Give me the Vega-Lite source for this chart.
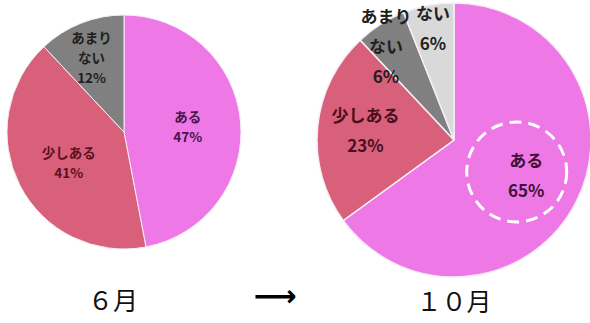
{
  "$schema": "https://vega.github.io/schema/vega-lite/v6.json",
  "padding": 0,
  "background": "white",
  "spacing": 0,
  "config": {
    "view": {"stroke": null},
    "title": {"font": "Noto Sans CJK JP", "fontSize": 25, "fontWeight": "normal", "color": "#111111", "orient": "bottom", "anchor": "middle", "baseline": "top"}
  },
  "datasets": {
    "pie": [
      {"month": "6月", "category": "ある", "label": "ある", "value": 47, "order": 1},
      {"month": "6月", "category": "少しある", "label": "少しある", "value": 41, "order": 2},
      {"month": "6月", "category": "あまりない", "label": "あまり\nない", "value": 12, "order": 3},
      {"month": "10月", "category": "ある", "label": "ある", "value": 65, "order": 1},
      {"month": "10月", "category": "少しある", "label": "少しある", "value": 23, "order": 2},
      {"month": "10月", "category": "あまりない", "label": "あまり\nない", "value": 6, "order": 3},
      {"month": "10月", "category": "ない", "label": "ない", "value": 6, "order": 4}
    ]
  },
  "hconcat": [
    {
      "width": 248,
      "height": 260,
      "title": {"text": "６月", "offset": 28, "dx": -11},
      "data": {"name": "pie"},
      "transform": [
        {"filter": "datum.month === '6月'"},
        {"stack": "value", "groupby": [], "sort": [{"field": "order", "order": "ascending"}], "as": ["t0", "t1"]},
        {"calculate": "(datum.t0 + datum.t1) / 2", "as": "mid"},
        {"calculate": "datum.label + '\\n' + datum.value + '%'", "as": "text"}
      ],
      "layer": [
        {
          "mark": {"type": "arc", "radius": 117, "stroke": "#f6eef6", "strokeWidth": 1},
          "encoding": {
            "theta": {"field": "t0", "type": "quantitative", "scale": {"domain": [0, 100]}, "stack": null},
            "theta2": {"field": "t1"},
            "fill": {"field": "category", "type": "nominal", "scale": {"domain": ["ある", "少しある", "あまりない", "ない"], "range": ["#EE78E6", "#D8607A", "#7F807F", "#D9D9D9"]}, "legend": null}
          }
        },
        {
          "transform": [{"filter": "datum.category === 'ある'"}],
          "mark": {"type": "text", "radius": 64, "dy": -8, "font": "Noto Sans CJK JP", "fontWeight": "bold", "fontSize": 13.5, "lineBreak": "\n", "lineHeight": 20, "align": "center", "baseline": "middle", "color": "#4a1548"},
          "encoding": {"theta": {"field": "mid", "type": "quantitative"}, "text": {"field": "text"}}
        },
        {
          "transform": [{"filter": "datum.category === '少しある'"}],
          "mark": {"type": "text", "radius": 62, "dy": -6, "font": "Noto Sans CJK JP", "fontWeight": "bold", "fontSize": 13.5, "lineBreak": "\n", "lineHeight": 20, "align": "center", "baseline": "middle", "color": "#5c1020"},
          "encoding": {"theta": {"field": "mid", "type": "quantitative"}, "text": {"field": "text"}}
        },
        {
          "transform": [{"filter": "datum.category === 'あまりない'"}],
          "mark": {"type": "text", "radius": 88, "dy": -11, "font": "Noto Sans CJK JP", "fontWeight": "bold", "fontSize": 13.5, "lineBreak": "\n", "lineHeight": 20, "align": "center", "baseline": "middle", "color": "#1f1f1f"},
          "encoding": {"theta": {"field": "mid", "type": "quantitative"}, "text": {"field": "text"}}
        }
      ]
    },
    {
      "width": 66,
      "height": 260,
      "title": {"text": "⟶", "font": "DejaVu Sans", "fontSize": 30, "fontWeight": "bold", "color": "#000000", "offset": 35, "dx": -6, "baseline": "middle"},
      "data": {"values": []},
      "mark": "text"
    },
    {
      "width": 276,
      "height": 276,
      "title": {"text": "１０月", "offset": 11, "dx": 0},
      "data": {"name": "pie"},
      "transform": [
        {"filter": "datum.month === '10月'"},
        {"stack": "value", "groupby": [], "sort": [{"field": "order", "order": "ascending"}], "as": ["t0", "t1"]},
        {"calculate": "(datum.t0 + datum.t1) / 2", "as": "mid"},
        {"calculate": "datum.label + '\\n' + datum.value + '%'", "as": "text"}
      ],
      "layer": [
        {
          "mark": {"type": "arc", "radius": 137, "stroke": "#f6eef6", "strokeWidth": 1.5},
          "encoding": {
            "theta": {"field": "t0", "type": "quantitative", "scale": {"domain": [0, 100]}, "stack": null},
            "theta2": {"field": "t1"},
            "fill": {"field": "category", "type": "nominal", "scale": {"domain": ["ある", "少しある", "あまりない", "ない"], "range": ["#EE78E6", "#D8607A", "#7F807F", "#D9D9D9"]}, "legend": null}
          }
        },
        {
          "transform": [{"filter": "datum.category === 'ある'"}],
          "mark": {"type": "text", "radius": 81, "dy": -15, "font": "Noto Sans CJK JP", "fontWeight": "bold", "fontSize": 17, "lineBreak": "\n", "lineHeight": 30, "align": "center", "baseline": "middle", "color": "#3e1238"},
          "encoding": {"theta": {"field": "mid", "type": "quantitative"}, "text": {"field": "text"}}
        },
        {
          "transform": [{"filter": "datum.category === '少しある'"}],
          "mark": {"type": "text", "radius": 89, "dy": -15, "font": "Noto Sans CJK JP", "fontWeight": "bold", "fontSize": 17, "lineBreak": "\n", "lineHeight": 30, "align": "center", "baseline": "middle", "color": "#4a0e1c"},
          "encoding": {"theta": {"field": "mid", "type": "quantitative"}, "text": {"field": "text"}}
        },
        {
          "transform": [{"filter": "datum.category === 'あまりない'"}],
          "mark": {"type": "text", "radius": 127, "dy": -15, "font": "Noto Sans CJK JP", "fontWeight": "bold", "fontSize": 17, "lineBreak": "\n", "lineHeight": 30, "align": "center", "baseline": "middle", "color": "#1f1f1f"},
          "encoding": {"theta": {"field": "mid", "type": "quantitative"}, "text": {"field": "text"}}
        },
        {
          "transform": [{"filter": "datum.category === 'ない'"}],
          "mark": {"type": "text", "radius": 112, "dy": -15, "font": "Noto Sans CJK JP", "fontWeight": "bold", "fontSize": 17, "lineBreak": "\n", "lineHeight": 30, "align": "center", "baseline": "middle", "color": "#222222"},
          "encoding": {"theta": {"field": "mid", "type": "quantitative"}, "text": {"field": "text"}}
        },
        {
          "transform": [
            {"filter": "datum.category === 'ある'"},
            {"calculate": "0.51 * sin(datum.mid / 100 * 2 * PI)", "as": "cx"},
            {"calculate": "0.51 * cos(datum.mid / 100 * 2 * PI)", "as": "cy"}
          ],
          "mark": {"type": "point", "shape": "circle", "size": 10000, "filled": false, "color": "white", "stroke": "white", "strokeWidth": 3, "strokeDash": [12, 7], "opacity": 1},
          "encoding": {
            "x": {"field": "cx", "type": "quantitative", "scale": {"domain": [-1, 1], "nice": false, "zero": false}, "axis": null},
            "y": {"field": "cy", "type": "quantitative", "scale": {"domain": [-1, 1], "nice": false, "zero": false}, "axis": null}
          }
        }
      ]
    }
  ]
}
